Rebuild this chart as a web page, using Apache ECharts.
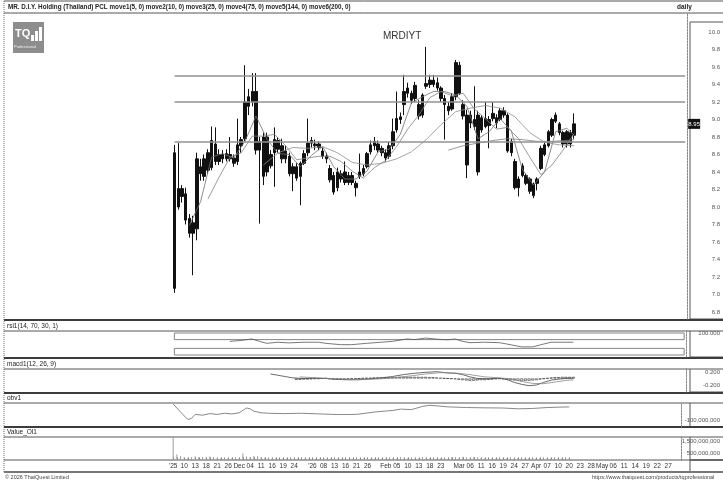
<!DOCTYPE html>
<html>
<head>
<meta charset="utf-8">
<title>MRDIYT daily</title>
<script src="https://cdn.jsdelivr.net/npm/echarts@6/dist/echarts.min.js"></script>
<style>
html, body { margin: 0; padding: 0; background: #fff; }
#main { width: 723px; height: 482px; }
</style>
</head>
<body>
<div id="main"></div>
<script>
// MR. D.I.Y. Holding (Thailand) daily candles, listing day 5 Nov 2025 to 20 Apr 2026
var opens = [8.62,8.00,8.21,8.15,7.87,7.70,7.75,8.46,8.35,8.42, 8.45,8.72,8.52,8.60,8.55,8.60,8.56,8.52,8.70,8.78,
  9.15,9.20,9.32,8.65,8.80,8.40,8.60,8.62,8.76,8.70, 8.55,8.58,8.38,8.46,8.35,8.50,8.62,8.73,8.70,8.72,
  8.64,8.58,8.44,8.36,8.22,8.38,8.28,8.36,8.28,8.27, 8.35,8.38,8.46,8.63,8.70,8.72,8.67,8.62,8.58,8.70,
  8.88,9.00,9.17,9.30,9.30,9.24,9.17,9.05,9.38,9.40, 9.45,9.42,9.36,9.24,9.15,9.12,9.26,9.62,9.17,9.05,
  8.96,9.00,9.05,8.88,8.92,9.00,9.01,9.02,9.00,9.10, 9.05,8.75,8.52,8.32,8.36,8.36,8.32,8.26,8.27,8.44,
  8.60,8.70,8.82,8.98,8.95,8.85,8.72,8.85,8.82];
var highs = [8.71,8.73,8.25,8.22,7.92,7.90,8.62,8.55,8.60,8.66, 8.92,8.91,8.66,8.65,8.66,8.80,8.60,9.01,8.80,9.62,
  9.35,9.53,9.53,8.80,8.85,8.85,8.65,8.91,8.80,8.78, 8.70,8.62,8.50,8.50,8.52,8.65,9.01,8.80,8.77,8.75,
  8.68,8.62,8.48,8.40,8.45,8.42,8.52,8.40,8.40,8.30, 8.61,8.48,8.63,8.76,8.80,8.76,8.70,8.66,8.75,9.01,
  9.32,9.08,9.51,9.42,9.33,9.43,9.22,9.30,9.83,9.51, 9.51,9.48,9.38,9.28,9.20,9.30,9.68,9.66,9.22,9.11,
  9.10,9.38,9.10,9.05,9.20,9.04,9.20,9.06,9.13,9.14, 9.07,8.78,8.55,8.35,8.50,8.38,8.34,8.28,8.34,8.70,
  8.74,8.88,9.02,9.08,8.97,8.87,8.88,8.88,9.07];
var lows = [7.02,7.97,8.05,7.80,7.65,7.22,7.62,8.30,8.30,8.38, 8.42,8.48,8.48,8.50,8.52,8.52,8.46,8.48,8.62,8.75,
  9.05,9.15,8.60,7.81,8.25,8.35,8.44,8.23,8.62,8.50, 8.50,8.35,8.18,8.30,8.02,8.48,8.58,8.68,8.65,8.65,
  8.55,8.50,8.28,8.14,8.18,8.28,8.25,8.25,8.25,8.12, 8.32,8.35,8.44,8.60,8.65,8.62,8.58,8.52,8.55,8.66,
  8.85,8.95,9.05,9.25,9.18,9.20,9.00,9.02,9.35,9.36, 9.37,9.33,9.20,8.77,9.05,9.10,9.22,9.28,9.00,8.33,
  8.90,8.88,8.36,8.85,8.90,8.67,8.98,8.90,8.98,9.02, 8.62,8.58,8.20,8.12,8.34,8.25,8.15,8.10,8.19,8.42,
  8.58,8.68,8.80,8.96,8.82,8.68,8.68,8.68,8.78];
var closes = [7.07,8.21,8.12,7.85,7.70,7.82,8.55,8.38,8.55,8.62, 8.76,8.52,8.60,8.55,8.61,8.55,8.50,8.71,8.77,9.20,
  9.26,9.32,8.65,8.75,8.35,8.80,8.47,8.77,8.66,8.55, 8.64,8.38,8.46,8.33,8.50,8.61,8.73,8.76,8.72,8.68,
  8.58,8.55,8.31,8.17,8.40,8.32,8.40,8.28,8.36,8.22, 8.40,8.44,8.61,8.71,8.75,8.65,8.62,8.56,8.70,8.86,
  9.01,9.03,9.32,9.36,9.22,9.39,9.04,9.28,9.41,9.45, 9.40,9.36,9.24,9.17,9.10,9.26,9.65,9.30,9.04,8.48,
  9.05,8.92,8.40,9.02,9.01,8.93,9.07,8.96,9.10,9.05, 8.64,8.62,8.22,8.22,8.47,8.27,8.18,8.13,8.32,8.67,
  8.71,8.86,9.00,9.05,8.85,8.72,8.86,8.72,8.95];
// traded value, million baht
var turnover = [1900,420,280,170,120,150,280,200,200,180, 250,200,120,110,120,130,110,150,120,500,
  250,200,300,280,200,150,120,130,90,90, 80,90,80,80,90,80,100,70,80,70,
  70,70,90,90,80,70,70,60,60,70, 80,70,90,90,80,70,70,60,80,110,
  150,90,180,120,100,120,110,100,200,120, 100,90,90,110,80,90,200,150,120,220,
  130,150,200,120,110,100,90,80,90,80, 130,100,150,110,100,90,90,100,90,130,
  100,110,120,100,90,80,80,80,100];

// moving averages: [day index, value]
var ma5 = [[4,7.79],[7,8.06],[10,8.57],[13,8.61],[16,8.56],[19,8.75],[22,9.04],[25,8.77],[28,8.61],[31,8.60],
  [34,8.46],[37,8.59],[40,8.69],[43,8.46],[46,8.32],[49,8.32],[52,8.41],[55,8.63],[58,8.66],[61,8.83],
  [64,9.19],[67,9.26],[70,9.32],[73,9.32],[76,9.28],[79,9.15],[82,8.78],[85,8.86],[88,9.01],[91,8.87],
  [94,8.43],[97,8.25],[100,8.40],[103,8.86],[106,8.90],[108,8.82]];
var ma10 = [[9,8.09],[12,8.34],[15,8.57],[18,8.62],[21,8.81],[24,8.81],[27,8.83],[30,8.70],[33,8.54],[36,8.56],
  [39,8.58],[42,8.58],[45,8.52],[48,8.41],[51,8.33],[54,8.45],[57,8.53],[60,8.69],[63,8.89],[66,9.05],
  [69,9.25],[72,9.32],[75,9.27],[78,9.30],[81,9.12],[84,9.01],[87,8.89],[90,8.91],[93,8.78],[96,8.57],
  [99,8.37],[102,8.48],[105,8.65],[108,8.84]];
var ma25 = [[24,8.48],[28,8.62],[32,8.68],[36,8.67],[40,8.69],[44,8.62],[48,8.51],[52,8.48],[56,8.50],[60,8.55],
  [64,8.63],[68,8.77],[72,8.94],[76,9.09],[80,9.13],[84,9.16],[88,9.13],[92,9.03],[96,8.85],[100,8.74],
  [104,8.71],[108,8.70]];
var ma75 = [[74,8.65],[78,8.70],[82,8.73],[86,8.76],[90,8.78],[94,8.77],[98,8.75],[102,8.75],[106,8.76],[108,8.77]];
var levels = [9.5, 9.2, 8.75];

var rsi = [[15,62],[18,66],[21,73],[23,62],[25,53],[28,58],[31,55],[35,58],[39,58],[41,53],[45,47],[48,47],
  [52,53],[56,58],[59,62],[63,73],[65,70],[68,77],[71,72],[74,69],[76,73],[78,62],[80,56],[84,58],[88,56],
  [90,50],[94,37],[97,37],[100,50],[102,58],[108,58]];
var macdLine = [[26,0.14],[28,0.10],[30,0.06],[32,0.02],[35,0.00],[38,0.01],[41,0.00],[44,-0.03],[47,-0.04],
  [50,-0.04],[53,-0.01],[56,0.02],[59,0.06],[62,0.12],[65,0.16],[68,0.19],[71,0.21],[74,0.17],[76,0.16],
  [78,0.12],[80,0.05],[82,0.00],[85,-0.01],[88,0.01],[90,-0.03],[92,-0.12],[94,-0.18],[96,-0.22],[98,-0.20],
  [100,-0.12],[102,-0.05],[104,-0.02],[106,0.00],[108,0.01]];
var signalLine = [[34,0.05],[37,0.03],[40,0.01],[44,-0.01],[48,-0.03],[52,-0.03],[56,-0.01],[60,0.03],[64,0.08],
  [68,0.14],[72,0.18],[76,0.17],[80,0.12],[84,0.05],[88,0.02],[91,-0.01],[94,-0.09],[97,-0.15],[100,-0.16],
  [103,-0.11],[106,-0.06],[108,-0.04]];
var histStart = 33;
var macdHist = [-0.04,-0.04,-0.03,-0.03,-0.02, -0.01,-0.01,0.00,0.01,-0.01,-0.02,-0.02,
  -0.02,-0.03,-0.02,-0.01,-0.01,0.00,0.01,0.02, 0.02,0.03,0.03,0.03,0.04,0.04,0.04,0.04,
  0.05,0.05,0.05,0.05,0.05,0.05,0.05,0.05, 0.04,0.04,0.03,0.02,0.01,0.00,-0.01,-0.02,
  -0.04,-0.05,-0.06,-0.07,-0.07,-0.06,-0.05,-0.05, -0.04,-0.03,-0.02,-0.01,-0.02,-0.03,-0.05,-0.06,
  -0.07,-0.08,-0.07,-0.07,-0.06,-0.05,-0.03,-0.01, 0.01,0.03,0.04,0.04,0.05,0.05,0.05,0.05];
// on-balance volume, million shares
var obv = [[0,0],[2,-50],[4,-97],[5,-90],[6,-65],[8,-70],[10,-60],[12,-65],[14,-58],[16,-62],[18,-55],[20,-25],
  [21,-30],[22,-45],[24,-55],[26,-58],[30,-60],[35,-58],[40,-62],[45,-66],[50,-65],[55,-50],[60,-40],[62,-32],
  [65,-35],[68,-15],[70,-8],[72,-12],[75,-18],[80,-22],[85,-24],[90,-25],[94,-30],[98,-28],[102,-22],[105,-20],[108,-18]];

var priceTicks = [6.8,7.0,7.2,7.4,7.6,7.8,8.0,8.2,8.4,8.6,8.8,9.0,9.2,9.4,9.6,9.8,10.0];
var tickLabels = [
  ['2025-11-05',"'25"],['2025-11-10','10'],['2025-11-13','13'],['2025-11-18','18'],['2025-11-21','21'],['2025-11-26','26'],
  ['2025-12-01','Dec'],['2025-12-04','04'],['2025-12-11','11'],['2025-12-16','16'],['2025-12-19','19'],['2025-12-24','24'],
  ['2026-01-05',"'26"],['2026-01-08','08'],['2026-01-13','13'],['2026-01-16','16'],['2026-01-21','21'],['2026-01-26','26'],
  ['2026-02-02','Feb'],['2026-02-05','05'],['2026-02-10','10'],['2026-02-13','13'],['2026-02-18','18'],['2026-02-23','23'],
  ['2026-03-02','Mar'],['2026-03-06','06'],['2026-03-11','11'],['2026-03-16','16'],['2026-03-19','19'],['2026-03-24','24'],['2026-03-27','27'],
  ['2026-04-01','Apr'],['2026-04-07','07'],['2026-04-10','10'],['2026-04-20','20'],['2026-04-23','23'],['2026-04-28','28'],
  ['2026-05-01','May'],['2026-05-06','06'],['2026-05-11','11'],['2026-05-14','14'],['2026-05-19','19'],['2026-05-22','22'],['2026-05-27','27']
];
var holidays = ['2025-12-05','2025-12-10','2025-12-31','2026-01-01','2026-01-02','2026-03-03','2026-04-06','2026-04-13','2026-04-14','2026-04-15'];

var LEAD = 44;      // empty slots left of the listing day
var FUTURE = 30;    // blank weekdays after the last bar
var FONT = '"Liberation Sans Narrow", "Arial Narrow", "Liberation Sans", sans-serif';

// trading calendar -> categories
function fmt(d) { return d.toISOString().slice(0, 10); }
var cats = [];
for (var k = 0; k < LEAD; k++) cats.push('pre' + k);
var day = new Date(Date.UTC(2025, 10, 5));
var nTraded = 0, nFuture = 0;
while (nTraded < closes.length || nFuture < FUTURE) {
  var s = fmt(day), wd = day.getUTCDay();
  if (wd !== 0 && wd !== 6) {
    if (nTraded < closes.length) {
      if (holidays.indexOf(s) < 0) { cats.push(s); nTraded++; }
    } else { cats.push(s); nFuture++; }
  }
  day = new Date(day.getTime() + 86400000);
}
var labelMap = {};
tickLabels.forEach(function (t) { labelMap[t[0]] = t[1]; });
var first = cats[LEAD], last = cats[cats.length - 1], n = closes.length;
var lastClose = closes[n - 1];

var candles = cats.map(function (c, k) {
  var i = k - LEAD;
  if (i < 0 || i >= n) return ['-', '-', '-', '-'];
  return [opens[i], closes[i], lows[i], highs[i]];
});
function shift(arr) { return arr.map(function (p) { return [p[0] + LEAD, p[1]]; }); }

var grids = [
  { top: 13, height: 306 },
  { top: 331, height: 26 },
  { top: 369, height: 23 },
  { top: 403, height: 24 },
  { top: 437, height: 23 }
];
grids.forEach(function (g) { g.left = 10; g.right = 35; });

function xAx(idx, withLabels) {
  return {
    type: 'category', gridIndex: idx, data: cats, boundaryGap: true,
    axisLine: { show: false },
    axisTick: withLabels ? {
      show: true, inside: true, length: 2, alignWithLabel: true,
      interval: function (k) { return k >= LEAD && k < LEAD + n; },
      lineStyle: { color: '#777', width: 1 }
    } : { show: false },
    axisLabel: withLabels ? {
      show: true, interval: 0, margin: 3, fontSize: 6.5, color: '#333', fontFamily: FONT,
      formatter: function (v) { return labelMap[v] || ''; }
    } : { show: false },
    splitLine: { show: false }
  };
}
function yAx(idx, min, max, ticks, margin, fmtFn) {
  return {
    type: 'value', gridIndex: idx, position: 'right', min: min, max: max, scale: true,
    axisLine: { show: true, lineStyle: { color: '#888', width: 1, type: [2, 1] } },
    axisTick: { show: false },
    splitLine: { show: false },
    axisLabel: {
      show: true, customValues: ticks, margin: margin, align: 'right',
      fontSize: 6, color: '#555', fontFamily: FONT, formatter: fmtFn
    }
  };
}
function commas(m) { return (m * 1e6).toLocaleString('en-US'); }

var thin = '#555', thick = '#3c3c3c';
function hline(y, x1, x2, w, c) {
  return { type: 'line', silent: true, shape: { x1: x1, y1: y, x2: x2, y2: y }, style: { stroke: c, lineWidth: w } };
}
function box(y, h) {
  return { type: 'rect', silent: true, shape: { x: 690, y: y, width: 40, height: h }, style: { fill: 'none', stroke: '#555', lineWidth: 1 } };
}
function label(x, y, text, size, extra) {
  var st = { text: text, x: x, y: y, fontSize: size, fontFamily: FONT, fill: '#222', verticalAlign: 'middle' };
  for (var key in extra) st[key] = extra[key];
  return { type: 'text', silent: true, style: st };
}

var graphics = [
  hline(1, 4, 723, 1, thin),
  hline(13, 4, 723, 1, thin),
  label(8, 7, 'MR. D.I.Y. Holding (Thailand) PCL move1(5, 0) move2(10, 0) move3(25, 0) move4(75, 0) move5(144, 0) move6(200, 0)', 6.3, { fontWeight: 'bold' }),
  label(677, 7, 'daily', 6.5, { fontWeight: 'bold' }),
  { type: 'line', silent: true, shape: { x1: 4, y1: 1, x2: 4, y2: 472 }, style: { stroke: '#666', lineWidth: 1, lineDash: [1, 1] } },
  box(22, 297), box(331, 26), box(369, 23), box(403, 24), box(437, 23), box(460, 12),
  hline(320, 4, 723, 2, thick), hline(331, 4, 690, 1, thin),
  hline(358, 4, 723, 2, thick), hline(369, 4, 690, 1, thin),
  hline(393, 4, 723, 2, thick), hline(403, 4, 690, 1, thin),
  hline(427, 4, 723, 2, thick), hline(437, 4, 690, 1, thin),
  hline(460, 4, 723, 1, thin), hline(472, 4, 723, 2, '#777'),
  label(7, 326, 'rsi1(14, 70, 30, 1)', 6.5, {}),
  label(7, 364, 'macd1(12, 26, 9)', 6.5, {}),
  label(7, 398, 'obv1', 6.5, {}),
  label(7, 432, 'Value_Ol1', 6.5, {}),
  label(5, 477, '\u00a9 2026 ThaiQuest Limited', 5.5, { fill: '#444' }),
  label(592, 477, 'https://www.thaiquest.com/products/tqprofessional', 5.5, { fill: '#444' }),
  {
    type: 'group', x: 13, y: 22, silent: true,
    children: [
      { type: 'rect', shape: { x: 0, y: 0, width: 31, height: 31 }, style: { fill: '#8d8d8d' } },
      { type: 'text', style: { text: 'TQ', x: 2, y: 6, fontSize: 11, fontWeight: 'bold', fill: '#fff', fontFamily: 'Liberation Sans' } },
      { type: 'rect', shape: { x: 18, y: 13, width: 3, height: 6 }, style: { fill: '#fff' } },
      { type: 'rect', shape: { x: 22, y: 9, width: 3, height: 10 }, style: { fill: '#fff' } },
      { type: 'rect', shape: { x: 26, y: 5, width: 3, height: 14 }, style: { fill: '#fff' } },
      { type: 'text', style: { text: 'Professional', x: 1, y: 23, fontSize: 4, fill: '#eee', fontFamily: 'Liberation Sans' } }
    ]
  }
];

function sparseLine(data, xi, color, w) {
  return {
    type: 'line', xAxisIndex: xi, yAxisIndex: xi, data: shift(data), showSymbol: false, symbol: 'none',
    connectNulls: true, silent: true, lineStyle: { color: color, width: w }
  };
}

var option = {
  animation: false,
  backgroundColor: '#fff',
  title: { text: 'MRDIYT', left: 378, top: 26, textStyle: { fontSize: 10, fontWeight: 'normal', color: '#333', fontFamily: 'Liberation Sans' } },
  grid: grids,
  xAxis: [xAx(0), xAx(1), xAx(2), xAx(3), xAx(4, true)],
  yAxis: [
    yAx(0, 6.72, 10.217, priceTicks, 33, function (v) { return v.toFixed(1); }),
    yAx(1, -9.1, 109.1, [100], 34, function (v) { return v.toFixed(3); }),
    yAx(2, -0.415, 0.292, [0.2, -0.2], 34, function (v) { return v.toFixed(3); }),
    yAx(3, -143.75, 6.25, [-100], 39, commas),
    yAx(4, -41.7, 1875, [1500, 500], 39, commas)
  ],
  graphic: graphics,
  series: [
    {
      type: 'candlestick', xAxisIndex: 0, yAxisIndex: 0, data: candles, barWidth: 3, silent: true,
      itemStyle: { color: '#111', color0: '#111', borderColor: '#111', borderColor0: '#111', borderWidth: 1 },
      markLine: {
        silent: true, symbol: 'none', animation: false,
        data: levels.map(function (lv) {
          return [{ coord: [first, lv], lineStyle: { color: '#929292', width: 1.5, type: 'solid' }, label: { show: false } },
                  { coord: [last, lv] }];
        })
      },
      // last-price tag, anchored at the last slot and nudged onto the price axis
      markPoint: {
        silent: true, animation: false, z: 20,
        data: [{
          coord: [last, lastClose], symbol: 'rect', symbolSize: [12, 10], symbolOffset: [9, 0],
          itemStyle: { color: '#111' },
          label: { show: true, position: 'inside', formatter: lastClose.toFixed(2), color: '#fff', fontSize: 6, fontFamily: FONT }
        }]
      }
    },
    sparseLine(ma5, 0, '#6e6e6e', 0.8),
    sparseLine(ma10, 0, '#808080', 0.8),
    sparseLine(ma25, 0, '#8e8e8e', 0.8),
    sparseLine(ma75, 0, '#7e7e7e', 0.8),
    (function () {
      var s = sparseLine(rsi, 1, '#555', 0.8);
      s.markArea = {
        silent: true,
        itemStyle: { color: 'rgba(255,255,255,0)', borderColor: '#666', borderWidth: 0.8 },
        data: [[{ coord: [first, 70] }, { coord: [last, 100] }], [{ coord: [first, 0] }, { coord: [last, 30] }]]
      };
      return s;
    })(),
    {
      type: 'bar', xAxisIndex: 2, yAxisIndex: 2, barWidth: 3, silent: true,
      data: macdHist.map(function (v, j) { return [histStart + j + LEAD, v]; }),
      itemStyle: { color: '#fff', borderColor: '#333', borderWidth: 0.6 }
    },
    sparseLine(macdLine, 2, '#444', 0.8),
    sparseLine(signalLine, 2, '#888', 0.8),
    sparseLine(obv, 3, '#888', 1),
    {
      type: 'bar', xAxisIndex: 4, yAxisIndex: 4, barWidth: 1, silent: true,
      data: turnover.map(function (v, i) { return [i + LEAD, v]; }),
      itemStyle: { color: '#9a9a9a' }
    }
  ]
};

var chart = echarts.init(document.getElementById('main'));
chart.setOption(option);
</script>
</body>
</html>
